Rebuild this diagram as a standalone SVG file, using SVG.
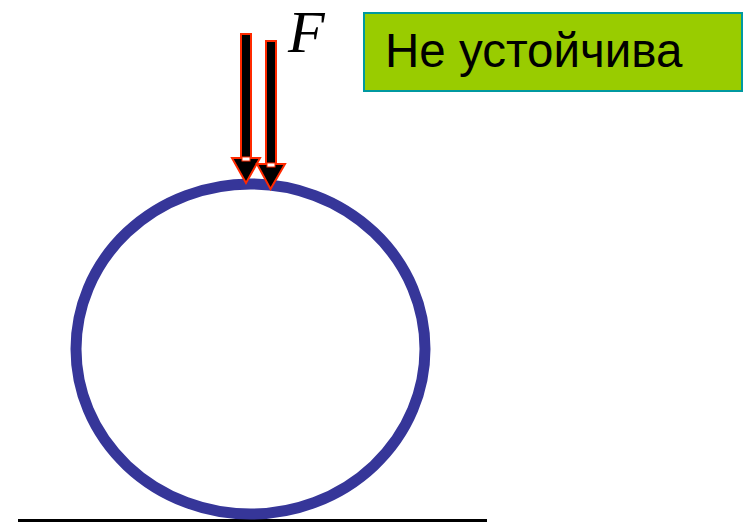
<svg xmlns="http://www.w3.org/2000/svg" width="746" height="523" viewBox="0 0 746 523">
<style>
.arrow{fill:#000;stroke:#FF2A00;stroke-width:2;stroke-linejoin:miter}
.notch{fill:#fff;stroke:#FF2A00;stroke-width:1}
</style>
<rect width="746" height="523" fill="#fff"/>
<g id="ground"><line x1="18" y1="520.5" x2="487" y2="520.5" stroke="#000" stroke-width="3"/></g>
<g id="circle"><ellipse cx="250.5" cy="349" rx="174.5" ry="165" fill="none" stroke="#363699" stroke-width="11"/></g>
<g id="connectors">
<g id="arrow1">
<path class="arrow" d="M241,34 H251 V158 H260 L246,183 L232,158 H241 Z"/>
<rect class="notch" x="242" y="157" width="8" height="4"/>
</g>
<g id="arrow2">
<path class="arrow" d="M266,41 H276 V164 H285 L270.5,189 L257,164 H266 Z"/>
<rect class="notch" x="267" y="163" width="8" height="4"/>
</g>
</g>
<g id="labelF"><text x="288" y="52" font-family="'Liberation Serif', serif" font-style="italic" font-size="60">F</text></g>
<g id="label">
<rect x="364" y="13" width="378" height="78" fill="#99CC00" stroke="#0099A0" stroke-width="2"/>
<text x="385" y="67" font-family="'Liberation Sans', Arial, sans-serif" font-size="47.5" fill="#000">Не устойчива</text>
</g>
</svg>
